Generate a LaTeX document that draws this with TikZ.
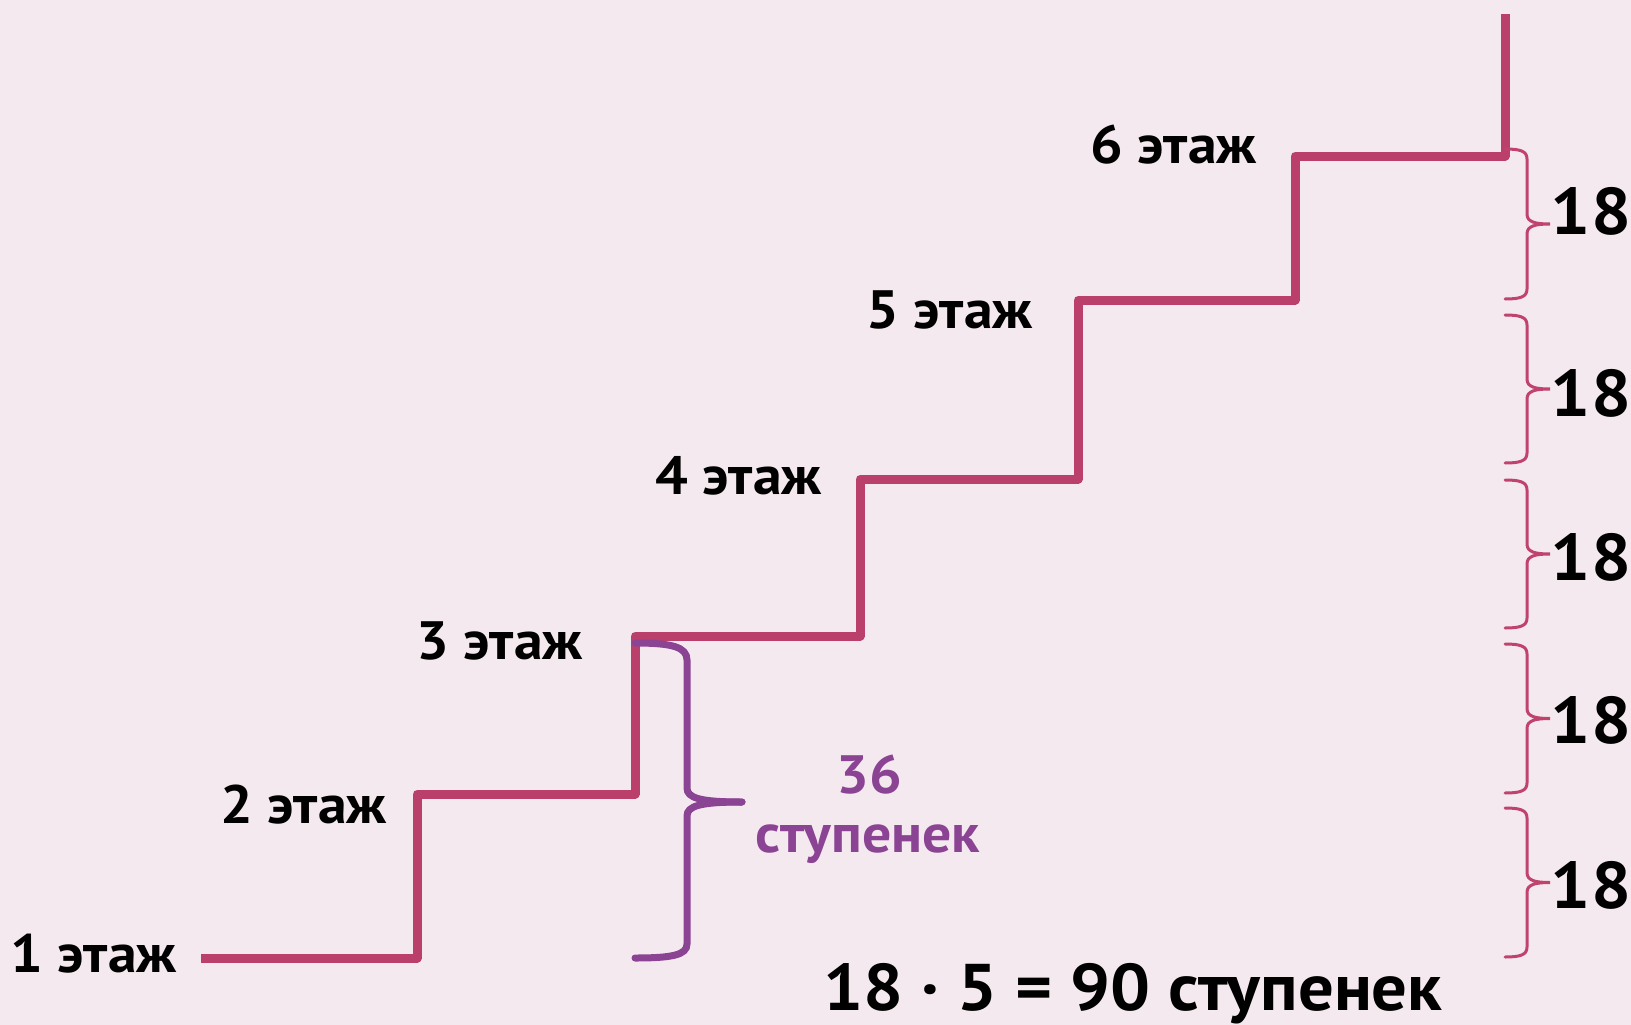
\documentclass[tikz,border=0pt]{standalone}
\usepackage{fontspec}
\setmainfont{PT Sans}[BoldFeatures={FakeStretch=1.07}]
\definecolor{bgc}{HTML}{F5E9F0}
\definecolor{stairc}{HTML}{BA3F6A}
\definecolor{bracec}{HTML}{C0436E}
\definecolor{purp}{HTML}{8B4393}
\begin{document}
\begin{tikzpicture}[x=1pt,y=-1pt,
  stair/.style={draw=stairc,line width=9pt,line join=round},
  pbrace/.style={draw=purp,line width=7pt,line cap=round},
  rbrace/.style={draw=bracec,line width=3pt,line cap=round},
  floorlbl/.style={font=\bfseries\fontsize{54}{60}\selectfont,anchor=base east,inner sep=0pt},
  numlbl/.style={font=\bfseries\fontsize{66}{72}\selectfont,inner sep=0pt},
  purplbl/.style={font=\bfseries\fontsize{54}{60}\selectfont,text=purp,inner sep=0pt}]
\fill[bgc] (0,0) rectangle (1631,1025);
\useasboundingbox (0,0) rectangle (1631,1025);
% staircase
\coordinate (s0) at (201,958);
\coordinate (s1) at (417,958);
\coordinate (s2) at (417,794);
\coordinate (s3) at (635,794);
\coordinate (s4) at (635,636);
\coordinate (s5) at (860,636);
\coordinate (s6) at (860,479);
\coordinate (s7) at (1078,479);
\coordinate (s8) at (1078,300);
\coordinate (s9) at (1295,300);
\coordinate (s10) at (1295,156);
\coordinate (s11) at (1505,156);
\coordinate (s12) at (1505,14);
\draw[stair] (s0) -- (s1) -- (s2) -- (s3) -- (s4) -- (s5) -- (s6) -- (s7) -- (s8) -- (s9) -- (s10) -- (s11) -- (s12);
% floor labels
\node[floorlbl] (f1) at (177,972) {1 этаж};
\node[floorlbl] (f2) at (387,823) {2 этаж};
\node[floorlbl] (f3) at (583,659) {3 этаж};
\node[floorlbl] (f4) at (822,494) {4 этаж};
\node[floorlbl] (f5) at (1033,328) {5 этаж};
\node[floorlbl] (f6) at (1257,163) {6 этаж};
% purple brace
\coordinate (pt) at (635,643);
\coordinate (pm) at (742,802);
\coordinate (pb) at (635,958);
\draw[pbrace] (pt) .. controls (672,643) and (687,647) .. (687,660) -- (687,788)
  .. controls (687,798) and (700,802) .. (pm);
\draw[pbrace] (pm) .. controls (700,802) and (687,806) .. (687,816) -- (687,944)
  .. controls (687,955) and (672,958) .. (pb);
\node[purplbl] (n36) at (869,775) {36};
\node[purplbl,anchor=base] (nst) at (868,852) {ступенек};
% right braces
\foreach \t/\b/\i/\ly in {149/299/1/211,315/463/2/393,480/628/3/557,644/793/4/720,808/957/5/885}{
  \pgfmathsetmacro{\m}{(\t+\b)/2}
  \coordinate (rt\i) at (1505,\t);
  \coordinate (rm\i) at (1550,\m);
  \coordinate (rb\i) at (1505,\b);
  \draw[rbrace] (rt\i) .. controls (1520,\t) and (1527,\t+2) .. (1527,\t+10) -- (1527,\m-10)
    .. controls (1527,\m-2) and (1535,\m) .. (rm\i)
    .. controls (1535,\m) and (1527,\m+2) .. (1527,\m+10) -- (1527,\b-10)
    .. controls (1527,\b-2) and (1520,\b) .. (rb\i);
  \node[numlbl] (e\i) at (1591,\ly) {18};
}
% bottom formula
\node[numlbl,anchor=base] (formula) at (1133,1010) {18 · 5 = 90 ступенек};
\end{tikzpicture}
\end{document}
